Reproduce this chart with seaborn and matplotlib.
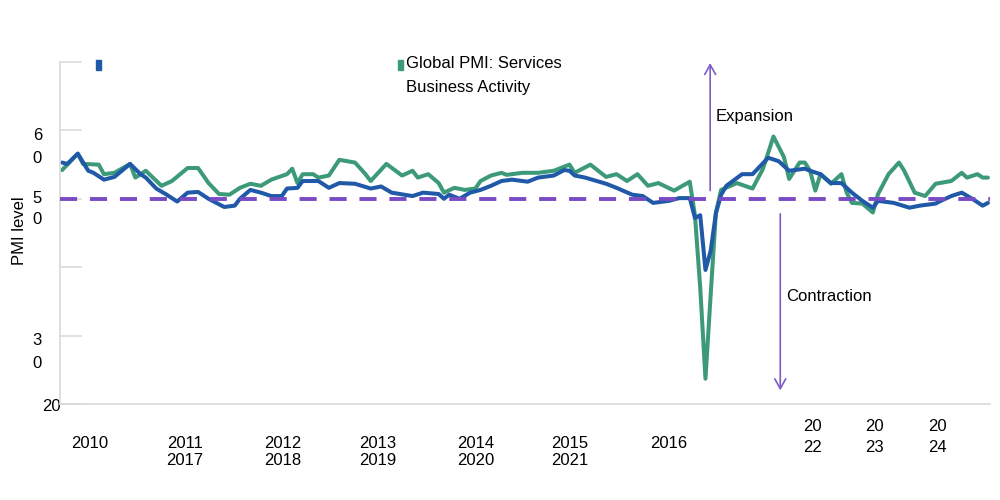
import matplotlib
matplotlib.use("Agg")
import matplotlib.pyplot as plt
import matplotlib.transforms as mtransforms
from matplotlib.patches import Rectangle
import pandas as pd
import seaborn as sns

# months counted from Jan 2010
svc_month = [0, 3, 4, 7, 8, 10, 13, 14, 16, 19, 21, 24, 26, 28, 30, 32, 34, 36, 38, 40,
             43, 44, 45, 46, 48, 49, 51, 53, 56, 58, 59, 62, 65, 67, 68, 70, 72, 73, 75, 77,
             79, 80, 82, 84, 85, 88, 91, 94, 97, 98, 101, 104, 106, 108, 110, 112, 114, 117, 120, 121,
             122, 123, 124, 125, 126, 129, 132, 134, 136, 138, 139, 141, 142, 143, 144, 145, 147, 149, 150, 151,
             153, 155, 156, 158, 160, 161, 163, 165, 167, 170, 172, 173, 175, 176, 177]
svc_value = [54.2, 56.6, 55.1, 55.0, 53.6, 53.8, 55.1, 53.1, 54.1, 51.9, 52.6, 54.5, 54.5, 52.3, 50.7, 50.6, 51.6, 52.2, 51.9, 52.8,
             53.6, 54.4, 52.3, 53.6, 53.6, 53.1, 53.4, 55.7, 55.3, 53.6, 52.6, 55.1, 53.4, 54.1, 53.1, 53.6, 52.3, 50.9, 51.6, 51.3,
             51.5, 52.6, 53.4, 53.8, 53.5, 53.8, 53.8, 54.1, 55.0, 53.8, 55.0, 53.2, 53.6, 52.6, 53.6, 51.9, 52.3, 51.2, 52.5, 47.5,
             37.0, 23.7, 36.0, 48.0, 51.3, 52.3, 51.5, 54.4, 59.1, 56.1, 52.9, 55.3, 55.3, 54.1, 51.2, 53.6, 52.2, 53.6, 50.9, 49.4,
             49.3, 48.0, 50.7, 53.6, 55.3, 54.1, 50.9, 50.4, 52.2, 52.6, 53.8, 53.1, 53.6, 53.1, 53.1]

mfg_month = [0, 1, 3, 5, 6, 8, 10, 13, 15, 16, 18, 20, 22, 24, 26, 28, 31, 33, 34, 36,
             38, 40, 42, 43, 45, 46, 49, 51, 53, 56, 59, 61, 63, 67, 69, 72, 73, 74, 76, 78,
             80, 82, 84, 86, 89, 91, 94, 96, 97, 98, 100, 104, 106, 109, 111, 113, 116, 118, 120, 121,
             122, 123, 124, 125, 126, 127, 130, 132, 135, 137, 139, 142, 143, 145, 147, 149, 151, 153, 155, 156,
             159, 162, 164, 167, 168, 170, 172, 174, 176, 177]
mfg_value = [55.3, 55.1, 56.6, 54.1, 53.8, 52.8, 53.2, 55.1, 53.6, 53.1, 51.5, 50.6, 49.6, 50.9, 51.0, 50.0, 48.8, 49.0, 50.0, 51.3,
             50.9, 50.4, 50.4, 51.5, 51.6, 52.6, 52.6, 51.6, 52.3, 52.2, 51.5, 51.8, 50.9, 50.4, 50.9, 50.7, 50.0, 50.6, 50.0, 50.9,
             51.3, 51.9, 52.6, 52.8, 52.5, 53.1, 53.4, 54.2, 54.1, 53.4, 53.1, 52.2, 51.6, 50.6, 50.4, 49.4, 49.7, 50.1, 50.1, 47.2,
             47.6, 39.6, 42.4, 47.9, 50.6, 51.9, 53.6, 53.6, 56.0, 55.5, 54.1, 54.4, 54.1, 53.6, 52.3, 52.3, 50.9, 49.7, 48.7, 49.7,
             49.4, 48.7, 49.0, 49.3, 49.7, 50.4, 50.9, 50.0, 49.0, 49.4]

# tick labels as they appear (scrambled) in the source chart
year_ticks = [5.35, 23.5, 42.1, 60.4, 79.0, 97.1, 115.9, 143.4, 155.4, 167.3]
year_labels = ["2010", "2011\n2017", "2012\n2018", "2013\n2019", "2014\n2020",
               "2015\n2021", "2016", "20\n22", "20\n23", "20\n24"]
pmi_ticks = [20, 30, 40, 50, 60, 70]
pmi_labels = ["20", "3\n0", "", "5\n0", "6\n0", ""]

GREEN = "#3d9a78"
BLUE = "#1f59a7"
PURPLE = "#7a4bc4"
ARROW = "#7d5cc8"
GRID = "#d9d9d9"

sns.set_theme(style="white")
plt.rcParams['font.family'] = ['Liberation Sans', 'DejaVu Sans']
plt.rcParams['text.color'] = 'black'

svc = pd.DataFrame({"month": svc_month, "pmi": svc_value})
mfg = pd.DataFrame({"month": mfg_month, "pmi": mfg_value})

fig = plt.figure(figsize=(10, 5), dpi=100)
ax = fig.add_axes([0.06, 0.192, 0.93, 0.684])

sns.lineplot(data=svc, x="month", y="pmi", color=GREEN, lw=2.9, ax=ax)
sns.lineplot(data=mfg, x="month", y="pmi", color=BLUE, lw=2.9, ax=ax)
ax.axhline(50, color=PURPLE, lw=2.8, dashes=(4.4, 3.3), zorder=3)

ax.set_xlim(-0.4, 177.4)
ax.set_ylim(20, 70)

for s in ["top", "right"]:
    ax.spines[s].set_visible(False)
for s in ["left", "bottom"]:
    ax.spines[s].set_color(GRID)
    ax.spines[s].set_linewidth(1.2)

ax.set_yticks(pmi_ticks)
ax.set_yticklabels(pmi_labels)
ax.tick_params(axis="y", left=True, direction="in", length=16, width=1.1, color=GRID,
               pad=13, labelsize=12, labelcolor="black")
for lab in ax.get_yticklabels():
    txt = lab.get_text()
    lab.set_linespacing(1.64)
    if txt == "5\n0":
        lab.set_linespacing(1.44)
        lab.set_verticalalignment("center_baseline")
        lab.set_transform(lab.get_transform() + mtransforms.ScaledTranslation(0, -0.06, fig.dpi_scale_trans))
    elif "\n" in txt:
        lab.set_verticalalignment("center_baseline")
        lab.set_transform(lab.get_transform() + mtransforms.ScaledTranslation(0, -0.11, fig.dpi_scale_trans))
    elif txt == "20":
        lab.set_transform(lab.get_transform() + mtransforms.ScaledTranslation(0.19, -0.01, fig.dpi_scale_trans))

ax.set_xticks(year_ticks)
ax.set_xticklabels(year_labels)
ax.tick_params(axis="x", length=0, pad=23.2, labelsize=12, labelcolor="black")
for lab in ax.get_xticklabels():
    lab.set_linespacing(1.18)
    if lab.get_text().startswith("20\n"):
        lab.set_linespacing(1.5)
        lab.set_transform(lab.get_transform() + mtransforms.ScaledTranslation(0, 0.17, fig.dpi_scale_trans))

ax.set_xlabel("")
ax.set_ylabel("")
fig.text(19 / 1000, 1 - 231 / 500, "PMI level", rotation=90, fontsize=12,
         ha="center", va="center", color="black")

# expansion / contraction arrows
ax.annotate("", xy=(123.9, 69.85), xytext=(123.9, 51.2),
            arrowprops=dict(arrowstyle="->,head_length=0.5,head_width=0.28", color=ARROW,
                            lw=1.2, shrinkA=0, shrinkB=0, mutation_scale=14))
ax.annotate("", xy=(137.3, 22.0), xytext=(137.3, 47.8),
            arrowprops=dict(arrowstyle="->,head_length=0.5,head_width=0.28", color=ARROW,
                            lw=1.2, shrinkA=0, shrinkB=0, mutation_scale=14))
ax.text(125.0, 62.1, "Expansion", fontsize=12, ha="left", va="center", color="black")
ax.text(138.4, 35.7, "Contraction", fontsize=12, ha="left", va="center", color="black")

# legend markers
fig.add_artist(Rectangle((95.5 / 1000, 1 - 69.5 / 500), 5 / 1000, 9 / 500,
                         transform=fig.transFigure, color=BLUE))
fig.add_artist(Rectangle((397.5 / 1000, 1 - 69.5 / 500), 5 / 1000, 9 / 500,
                         transform=fig.transFigure, color=GREEN))
fig.text(406 / 1000, 1 - 56 / 500, "Global PMI: Services\nBusiness Activity",
         fontsize=12, ha="left", va="top", linespacing=1.72, color="black")

fig.savefig("out.png", dpi=100)
